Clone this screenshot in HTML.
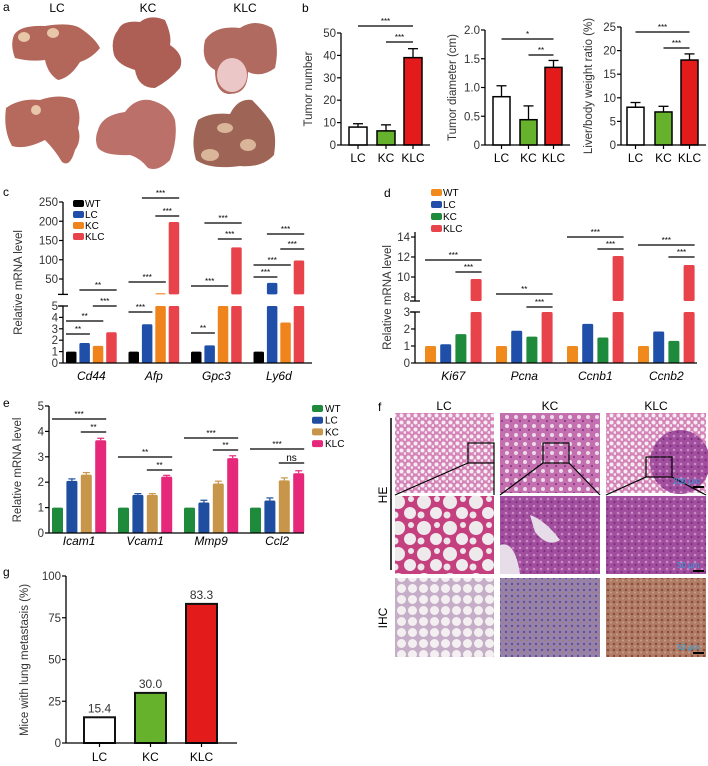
<!DOCTYPE html>
<html><head><meta charset="utf-8">
<style>
html,body{margin:0;padding:0;background:#fff;}
svg{display:block;font-family:"Liberation Sans",sans-serif;}
</style></head>
<body>
<svg id="fig" width="708" height="766" viewBox="0 0 708 766" xmlns="http://www.w3.org/2000/svg">
<defs>
<pattern id="pLung" width="7" height="7" patternUnits="userSpaceOnUse">
<rect width="7" height="7" fill="#d684b8"/><circle cx="2.5" cy="2.5" r="2" fill="#f4eef4"/><circle cx="6" cy="5.5" r="1.4" fill="#f1e8f0"/>
</pattern>
<pattern id="pLungBig" width="26" height="26" patternUnits="userSpaceOnUse">
<rect width="26" height="26" fill="#c4407e"/><circle cx="8" cy="8" r="7" fill="#eeeaec"/><circle cx="20" cy="19" r="6" fill="#efebee"/><circle cx="21" cy="5" r="3" fill="#ece6ea"/><circle cx="5" cy="21" r="3.5" fill="#ece6ea"/>
</pattern>
<pattern id="pDense" width="7" height="7" patternUnits="userSpaceOnUse">
<rect width="7" height="7" fill="#a24e9e"/><circle cx="2" cy="2" r="1.3" fill="#c98ac4"/><circle cx="5.5" cy="5" r="1.1" fill="#7d2f7e"/>
</pattern>
<pattern id="pMid" width="9" height="9" patternUnits="userSpaceOnUse">
<rect width="9" height="9" fill="#c46fb0"/><circle cx="3" cy="3" r="2" fill="#ecdcea"/><circle cx="7" cy="7" r="1.1" fill="#8b3a88"/>
</pattern>
<pattern id="pIhc1" width="11" height="11" patternUnits="userSpaceOnUse">
<rect width="11" height="11" fill="#c6aec8"/><circle cx="5.5" cy="5.5" r="4.5" fill="#f4f0f2"/>
</pattern>
<pattern id="pIhc2" width="6" height="6" patternUnits="userSpaceOnUse">
<rect width="6" height="6" fill="#9583ad"/><circle cx="2" cy="2" r="1.2" fill="#6a4e8e"/><circle cx="5" cy="4.5" r="0.9" fill="#a87a6a"/>
</pattern>
<pattern id="pIhc3" width="6" height="6" patternUnits="userSpaceOnUse">
<rect width="6" height="6" fill="#b07c66"/><circle cx="2" cy="2" r="1.2" fill="#8a4a38"/><circle cx="5" cy="4.5" r="1" fill="#c9a08c"/>
</pattern>
</defs>

<!-- Panel a -->
<g>
<text x="3" y="11" font-size="12">a</text>
<text x="57" y="12" font-size="12" text-anchor="middle">LC</text>
<text x="148" y="12" font-size="12" text-anchor="middle">KC</text>
<text x="245" y="12" font-size="12" text-anchor="middle">KLC</text>
<path d="M14,35 Q20,25 45,26 Q70,22 80,28 Q95,38 100,48 Q92,58 80,62 Q70,78 58,80 Q48,74 45,60 Q30,62 15,58 Q10,45 14,35Z" fill="#b3675b"/>
<ellipse cx="24" cy="37" rx="6" ry="5" fill="#e8c6a8"/><ellipse cx="53" cy="33" rx="6" ry="5" fill="#e8c6a8"/>
<path d="M118,30 Q122,20 140,22 Q150,14 165,20 Q172,35 170,45 Q185,55 180,68 Q170,80 155,88 Q138,88 135,70 Q118,65 114,55 Q110,40 118,30Z" fill="#ad5f56"/>
<path d="M205,40 Q215,25 240,28 Q255,18 272,28 Q280,45 275,68 Q262,78 248,72 Q248,95 228,94 Q215,92 215,70 Q200,62 205,40Z" fill="#b06a60"/>
<ellipse cx="232" cy="75" rx="15" ry="17" fill="#ecc7c8"/>
<path d="M6,108 Q20,98 40,100 Q60,93 75,100 Q82,115 78,128 Q82,140 75,150 Q70,168 62,162 Q55,150 45,140 Q25,150 12,146 Q3,130 6,108Z" fill="#b56a5d"/>
<ellipse cx="36" cy="110" rx="5" ry="5" fill="#e8c6a8"/>
<path d="M98,130 Q102,115 125,112 Q135,98 150,100 Q170,105 175,120 Q178,140 170,160 Q158,172 148,168 Q140,158 130,155 Q105,156 98,148 Q94,140 98,130Z" fill="#bb7169"/>
<path d="M198,120 Q210,112 230,114 Q238,98 252,100 Q262,110 268,118 Q278,130 274,155 Q262,168 240,166 Q210,170 196,160 Q190,140 198,120Z" fill="#9e6455"/>
<ellipse cx="210" cy="155" rx="9" ry="6" fill="#d9b59a"/><ellipse cx="248" cy="145" rx="8" ry="6" fill="#d9b59a"/><ellipse cx="225" cy="128" rx="8" ry="5" fill="#d9b59a"/>
</g>

<text x="302" y="12" font-size="12">b</text>
<text x="3" y="196" font-size="12">c</text>
<text x="384" y="197" font-size="12">d</text>
<text x="3" y="407" font-size="12">e</text>
<text x="378" y="411" font-size="12">f</text>
<text x="3" y="576" font-size="12">g</text>

<!-- Panel f -->
<g>
<text x="444" y="410" font-size="12" text-anchor="middle">LC</text>
<text x="550" y="410" font-size="12" text-anchor="middle">KC</text>
<text x="656" y="410" font-size="12" text-anchor="middle">KLC</text>
<line x1="391" y1="418" x2="391" y2="570" stroke="#000" stroke-width="1.5"/>
<text transform="translate(387,495) rotate(-90)" font-size="12" text-anchor="middle">HE</text>
<text transform="translate(387,618) rotate(-90)" font-size="12" text-anchor="middle">IHC</text>
<rect x="395" y="413" width="99" height="80" fill="url(#pLung)"/>
<rect x="500" y="413" width="100" height="80" fill="url(#pMid)"/>
<rect x="606" y="413" width="100" height="80" fill="url(#pLung)"/>
<ellipse cx="680" cy="462" rx="30" ry="32" fill="url(#pDense)"/>
<rect x="395" y="496" width="99" height="78" fill="url(#pLungBig)"/>
<rect x="500" y="496" width="100" height="78" fill="url(#pDense)"/>
<path d="M500,545 Q515,540 520,574 L500,574Z M530,515 Q545,520 560,540 Q548,548 535,532Z" fill="#e6dde8"/>
<rect x="606" y="496" width="100" height="78" fill="url(#pDense)"/>
<rect x="395" y="578" width="99" height="79" fill="url(#pIhc1)"/>
<rect x="500" y="578" width="100" height="79" fill="url(#pIhc2)"/>
<rect x="606" y="578" width="100" height="79" fill="url(#pIhc3)"/>
<g fill="none" stroke="#000" stroke-width="1.2">
<rect x="468" y="443" width="26" height="20"/><line x1="468" y1="463" x2="395" y2="495"/><line x1="494" y1="463" x2="494" y2="495"/>
<rect x="543" y="443" width="26" height="20"/><line x1="543" y1="463" x2="500" y2="495"/><line x1="569" y1="463" x2="600" y2="495"/>
<rect x="646" y="457" width="26" height="20"/><line x1="646" y1="477" x2="606" y2="495"/><line x1="672" y1="477" x2="706" y2="495"/>
</g>
<text x="673" y="484" font-size="8" fill="#2aa3e0">200 μm</text>
<text x="677" y="568" font-size="8" fill="#2aa3e0">50 μm</text>
<text x="677" y="650" font-size="8" fill="#2aa3e0">50 μm</text>
<rect x="693" y="486" width="11" height="2"/><rect x="693" y="570" width="11" height="2"/><rect x="693" y="652" width="11" height="2"/>
</g>

<g id="charts"></g>
</svg>

<script>
// ---------- Panel b data ----------
const bGroups = ["LC", "KC", "KLC"];
const bTumorNumber = [8, 6.3, 39];
const bTumorNumberErr = [1.5, 2.7, 4];
const bTumorDiameter = [0.84, 0.44, 1.35];
const bTumorDiameterErr = [0.19, 0.24, 0.12];
const bLiverRatio = [8, 7, 18];
const bLiverRatioErr = [1, 1.2, 1.3];
const bTicks1 = [0, 10, 20, 30, 40, 50];
const bTicks2 = ["0", "0.5", "1.0", "1.5", "2.0"];
const bTicks3 = [0, 5, 10, 15, 20, 25];

// ---------- Panel c data ----------
const cGenes = ["Cd44", "Afp", "Gpc3", "Ly6d"];
const cSeries = ["WT", "LC", "KC", "KLC"];
const cWT = [1, 1, 1, 1];
const cLC = [1.75, 3.4, 1.55, 40];
const cKC = [1.5, 13, 10, 3.55];
const cKLC = [2.7, 198, 132, 98];
const cTicksLow = [0, 1, 2, 3, 4, 5];
const cTicksHigh = [50, 100, 150, 200, 250];

// ---------- Panel d data ----------
const dGenes = ["Ki67", "Pcna", "Ccnb1", "Ccnb2"];
const dSeries = ["WT", "LC", "KC", "KLC"];
const dWT = [1, 1, 1, 1];
const dLC = [1.1, 1.9, 2.3, 1.85];
const dKC = [1.7, 1.55, 1.5, 1.3];
const dKLC = [9.8, 3.0, 12.1, 11.2];
const dTicksLow = [0, 1, 2, 3];
const dTicksHigh = [8, 10, 12, 14];

// ---------- Panel e data ----------
const eGenes = ["Icam1", "Vcam1", "Mmp9", "Ccl2"];
const eSeries = ["WT", "LC", "KC", "KLC"];
const eWT = [1, 1, 1, 1];
const eLC = [2.05, 1.5, 1.2, 1.28];
const eKC = [2.3, 1.5, 1.95, 2.07];
const eKLC = [3.65, 2.22, 2.95, 2.35];
const eErr = [0.08, 0.05, 0.09, 0.1];
const eTicks = [0, 1, 2, 3, 4, 5];

// ---------- Panel g data ----------
const gGroups = ["LC", "KC", "KLC"];
const gValues = [15.4, 30.0, 83.3];
const gTicks = [0, 25, 50, 75, 100];

const NS = "http://www.w3.org/2000/svg";
const root = document.getElementById("charts");
function mk(tag, attrs, parent) {
  const el = document.createElementNS(NS, tag);
  for (const k in attrs) el.setAttribute(k, attrs[k]);
  (parent || root).appendChild(el);
  return el;
}
function txt(x, y, s, size, anchor, parent, extra) {
  const t = mk("text", Object.assign({x: x, y: y, "font-size": size, "text-anchor": anchor || "middle"}, extra || {}), parent);
  t.textContent = s;
  return t;
}
function sig(x1, x2, y, label, parent) {
  const l = mk("line", {x1: x1, x2: x2, y1: y, y2: y, stroke: "#000", "stroke-width": 1.2}, parent);
  
  
  const t = txt((x1 + x2) / 2, y - 2, label, label === "ns" ? 10 : 8, "middle", parent);
  
  
}

// ---------- Panel b ----------
function chartB(name, axisX, yTop, yBot, maxV, ticks, vals, errs, title, barX, barW, sigs) {
  const g = mk("g", {});
  
  
  const y = v => yBot - v / maxV * (yBot - yTop);
  const colors = ["#ffffff", "#67b22c", "#e31b1b"];
  vals.forEach((v, i) => {
    const cx = barX[i] + barW / 2;
    const e = mk("line", {x1: cx, x2: cx, y1: y(v), y2: y(v + errs[i]), stroke: "#000", "stroke-width": 1.3}, g);
    
    
    mk("line", {x1: cx - 5, x2: cx + 5, y1: y(v + errs[i]), y2: y(v + errs[i]), stroke: "#000", "stroke-width": 1.3}, g);
    const r = mk("rect", {x: barX[i], y: y(v), width: barW, height: yBot - y(v), fill: colors[i], stroke: "#000", "stroke-width": 1.5}, g);
    
    
    mk("line", {x1: cx, x2: cx, y1: yBot, y2: yBot + 4, stroke: "#000", "stroke-width": 1.2}, g);
    const t = txt(cx, yBot + 17, bGroups[i], 12, "middle", g);
    
    
  });
  mk("line", {x1: axisX, x2: axisX, y1: yTop, y2: yBot, stroke: "#000", "stroke-width": 1.3}, g);
  mk("line", {x1: axisX, x2: barX[2] + barW + 8, y1: yBot, y2: yBot, stroke: "#000", "stroke-width": 1.3}, g);
  ticks.forEach(tk => {
    const v = parseFloat(tk);
    mk("line", {x1: axisX - 4, x2: axisX, y1: y(v), y2: y(v), stroke: "#000", "stroke-width": 1.2}, g);
    const t = txt(axisX - 5, y(v) + 4, String(tk), 11.5, "end", g, {fill: "#333"});
    
    
  });
  const yt = txt(0, 0, title, 11.5, "middle", g, {transform: "translate(" + (axisX - 29) + "," + ((yTop + yBot) / 2) + ") rotate(-90)", fill: "#333"});
  
  
  sigs.forEach(s => sig(barX[s[0]] + barW / 2, barX[s[1]] + barW / 2, s[2], s[3], g));
}
chartB("chart-tumor-number", 341, 33, 145, 50, bTicks1, bTumorNumber, bTumorNumberErr, "Tumor number", [349, 377, 404], 18, [[0, 2, 26, "***"], [1, 2, 42, "***"]]);
chartB("chart-tumor-diameter", 485, 30, 145, 2, bTicks2, bTumorDiameter, bTumorDiameterErr, "Tumor diameter (cm)", [493, 520, 545], 17, [[0, 2, 39, "*"], [1, 2, 55, "**"]]);
chartB("chart-liver-ratio", 621, 27, 145, 25, bTicks3, bLiverRatio, bLiverRatioErr, "Liver/body weight ratio (%)", [627, 655, 681], 17, [[0, 2, 32, "***"], [1, 2, 48, "***"]]);

// ---------- Broken-axis grouped bar chart (c, d) ----------
function brokenChart(cfg) {
  const g = mk("g", {});
  
  
  const yLow = v => cfg.lowBot - v / cfg.lowMax * (cfg.lowBot - cfg.lowTop);
  const yHigh = v => cfg.highBot - (v - cfg.highMin) / (cfg.highMax - cfg.highMin) * (cfg.highBot - cfg.highTop);
  cfg.series.forEach((vals, si) => {
    vals.forEach((v, gi) => {
      const x = cfg.x0 + gi * cfg.gStep + si * cfg.bStep;
      const lowV = Math.min(v, cfg.lowMax);
      const r = mk("rect", {x: x, y: yLow(lowV), width: cfg.bw, height: cfg.lowBot - yLow(lowV), fill: cfg.colors[si], rx: 1.5}, g);
      
      
      if (v > cfg.highMin) {
        const r2 = mk("rect", {x: x, y: yHigh(v), width: cfg.bw, height: cfg.highBot - yHigh(v), fill: cfg.colors[si], rx: 1.5}, g);
        
        
      }
    });
  });
  mk("line", {x1: cfg.axisX, x2: cfg.axisX, y1: cfg.lowTop, y2: cfg.lowBot, stroke: "#000", "stroke-width": 1.3}, g);
  mk("line", {x1: cfg.axisX, x2: cfg.axisX, y1: cfg.highTop, y2: cfg.highBot, stroke: "#000", "stroke-width": 1.3}, g);
  mk("line", {x1: cfg.axisX - 5, x2: cfg.axisX + 5, y1: cfg.highBot, y2: cfg.highBot, stroke: "#000", "stroke-width": 1.3}, g);
  mk("line", {x1: cfg.axisX - 5, x2: cfg.axisX + 5, y1: cfg.lowTop, y2: cfg.lowTop, stroke: "#000", "stroke-width": 1.3}, g);
  mk("line", {x1: cfg.axisX, x2: cfg.axisEnd, y1: cfg.lowBot, y2: cfg.lowBot, stroke: "#000", "stroke-width": 1.3}, g);
  cfg.ticksLow.forEach(v => {
    mk("line", {x1: cfg.axisX - 4, x2: cfg.axisX, y1: yLow(v), y2: yLow(v), stroke: "#000", "stroke-width": 1.2}, g);
    const t = txt(cfg.axisX - 5, yLow(v) + 4, String(v), 11.5, "end", g, {fill: "#333"});
    
    
  });
  cfg.ticksHigh.forEach(v => {
    mk("line", {x1: cfg.axisX - 4, x2: cfg.axisX, y1: yHigh(v), y2: yHigh(v), stroke: "#000", "stroke-width": 1.2}, g);
    const t = txt(cfg.axisX - 5, yHigh(v) + 4, String(v), 11.5, "end", g, {fill: "#333"});
    
    
  });
  cfg.genes.forEach((gn, gi) => {
    const cx = cfg.x0 + gi * cfg.gStep + 1.5 * cfg.bStep + cfg.bw / 2;
    const t = txt(cx, cfg.lowBot + 17, gn, 12, "middle", g, {"font-style": "italic"});
    
    
  });
  const yt = txt(0, 0, "Relative mRNA level", 11.5, "middle", g, {transform: "translate(" + cfg.titleX + "," + ((cfg.highTop + cfg.lowBot) / 2) + ") rotate(-90)", fill: "#333"});
  
  
  cfg.names.forEach((n, i) => {
    const lr = mk("rect", {x: cfg.legX, y: cfg.legY + i * cfg.legStep - 4, width: 11, height: 7, fill: cfg.colors[i], rx: 2}, g);
    
    
    const lt = txt(cfg.legX + 12, cfg.legY + i * cfg.legStep + 3, n, 10, "start", g);
    
    
  });
  cfg.sigs.forEach(s => {
    const x1 = cfg.x0 + s[0] * cfg.gStep + s[1] * cfg.bStep;
    const x2 = cfg.x0 + s[0] * cfg.gStep + s[2] * cfg.bStep + cfg.bw;
    sig(x1, x2, s[3], s[4], g);
  });
}
brokenChart({
  name: "chart-c-mrna", genes: cGenes, names: cSeries, series: [cWT, cLC, cKC, cKLC],
  colors: ["#000000", "#1f4fa8", "#f0841c", "#e8434a"],
  axisX: 63, axisEnd: 312, x0: 66, gStep: 62.5, bStep: 13.4, bw: 10.5,
  lowTop: 306, lowBot: 363, lowMax: 5, highTop: 202, highBot: 294.4, highMin: 10, highMax: 250,
  ticksLow: cTicksLow, ticksHigh: cTicksHigh, titleX: 22, legX: 73, legY: 204, legStep: 11,
  sigs: [[0,0,1,334,"**"],[0,0,2,321,"**"],[0,2,3,306,"***"],[0,1,3,290,"**"],
         [1,0,1,312,"***"],[1,0,2,282,"***"],[1,2,3,216,"***"],[1,1,3,198,"***"],
         [2,0,1,333,"**"],[2,0,2,286,"***"],[2,2,3,239,"***"],[2,1,3,223,"***"],
         [3,0,1,277,"***"],[3,0,2,265,"***"],[3,2,3,249,"***"],[3,1,3,234,"***"]]
});
brokenChart({
  name: "chart-d-mrna", genes: dGenes, names: dSeries, series: [dWT, dLC, dKC, dKLC],
  colors: ["#f08a1c", "#1f4fa8", "#1e8a3c", "#e8434a"],
  axisX: 415, axisEnd: 697, x0: 425, gStep: 71, bStep: 15.2, bw: 11,
  lowTop: 312, lowBot: 363, lowMax: 3, highTop: 232, highBot: 301, highMin: 7.6, highMax: 14.5,
  ticksLow: dTicksLow, ticksHigh: dTicksHigh, titleX: 391, legX: 431, legY: 193, legStep: 12,
  sigs: [[0,0,3,260,"***"],[0,2,3,272,"***"],[1,0,3,294,"**"],[1,2,3,307,"***"],
         [2,0,3,237,"***"],[2,2,3,249,"***"],[3,0,3,245,"***"],[3,2,3,257,"***"]]
});

// ---------- Panel e ----------
(function () {
  const g = mk("g", {});
  
  
  const axisX = 49, yTop = 406, yBot = 533, maxV = 5;
  const y = v => yBot - v / maxV * (yBot - yTop);
  const colors = ["#1e8a3c", "#1f4ea0", "#c8964a", "#e5287a"];
  const x0 = 52, gStep = 66, bStep = 14.4, bw = 11;
  [eWT, eLC, eKC, eKLC].forEach((vals, si) => {
    vals.forEach((v, gi) => {
      const x = x0 + gi * gStep + si * bStep;
      if (si > 0) {
        mk("line", {x1: x + bw / 2, x2: x + bw / 2, y1: y(v), y2: y(v + eErr[gi]), stroke: colors[si], "stroke-width": 1.2}, g);
        mk("line", {x1: x + 2, x2: x + bw - 2, y1: y(v + eErr[gi]), y2: y(v + eErr[gi]), stroke: colors[si], "stroke-width": 1.2}, g);
      }
      const r = mk("rect", {x: x, y: y(v), width: bw, height: yBot - y(v), fill: colors[si], rx: 1.5}, g);
      
      
    });
  });
  mk("line", {x1: axisX, x2: axisX, y1: yTop, y2: yBot, stroke: "#000", "stroke-width": 1.3}, g);
  mk("line", {x1: axisX, x2: 304, y1: yBot, y2: yBot, stroke: "#000", "stroke-width": 1.3}, g);
  eTicks.forEach(v => {
    mk("line", {x1: axisX - 4, x2: axisX, y1: y(v), y2: y(v), stroke: "#000", "stroke-width": 1.2}, g);
    const t = txt(axisX - 5, y(v) + 4, String(v), 11.5, "end", g, {fill: "#333"});
    
    
  });
  eGenes.forEach((gn, gi) => {
    const t = txt(x0 + gi * gStep + 1.5 * bStep + bw / 2, 545, gn, 12, "middle", g, {"font-style": "italic"});
    
    
  });
  const yt = txt(0, 0, "Relative mRNA level", 11.5, "middle", g, {transform: "translate(21,470) rotate(-90)", fill: "#333"});
  
  
  eSeries.forEach((n, i) => {
    const lr = mk("rect", {x: 312, y: 405 + i * 11.7, width: 11, height: 7, fill: colors[i], rx: 2}, g);
    
    
    const lt = txt(325, 412 + i * 11.7, n, 10, "start", g);
    
    
  });
  const sigs = [[0,0,419,"***"],[0,2,432,"**"],[1,0,457,"**"],[1,2,470,"**"],[2,0,438,"***"],[2,2,450,"**"],[3,0,449,"***"],[3,2,463,"ns"]];
  sigs.forEach(s => sig(x0 + s[0] * gStep + s[1] * bStep, x0 + s[0] * gStep + 3 * bStep + bw, s[2], s[3], g));
})();

// ---------- Panel g ----------
(function () {
  const g = mk("g", {});
  
  
  const axisX = 66, yTop = 576, yBot = 743, maxV = 100;
  const y = v => yBot - v / maxV * (yBot - yTop);
  const colors = ["#ffffff", "#67b22c", "#e31b1b"];
  const bx = [84, 135, 186], bw = 31;
  gValues.forEach((v, i) => {
    const r = mk("rect", {x: bx[i], y: y(v), width: bw, height: yBot - y(v), fill: colors[i], stroke: "#111", "stroke-width": 2}, g);
    
    
    const vl = txt(bx[i] + bw / 2, y(v) - 5, v.toFixed(1), 12, "middle", g, {fill: "#333"});
    
    
    mk("line", {x1: bx[i] + bw / 2, x2: bx[i] + bw / 2, y1: yBot, y2: yBot + 4, stroke: "#000", "stroke-width": 1.2}, g);
    const t = txt(bx[i] + bw / 2, yBot + 18, gGroups[i], 12, "middle", g);
    
    
  });
  mk("line", {x1: axisX, x2: axisX, y1: yTop, y2: yBot, stroke: "#000", "stroke-width": 1.3}, g);
  mk("line", {x1: axisX, x2: 237, y1: yBot, y2: yBot, stroke: "#000", "stroke-width": 1.3}, g);
  gTicks.forEach(v => {
    mk("line", {x1: axisX - 4, x2: axisX, y1: y(v), y2: y(v), stroke: "#000", "stroke-width": 1.2}, g);
    const t = txt(axisX - 5, y(v) + 4, String(v), 11.5, "end", g, {fill: "#333"});
    
    
  });
  const yt = txt(0, 0, "Mice with lung metastasis (%)", 11.5, "middle", g, {transform: "translate(28,660) rotate(-90)", fill: "#333"});
  
  
})();
</script>
</body></html>
